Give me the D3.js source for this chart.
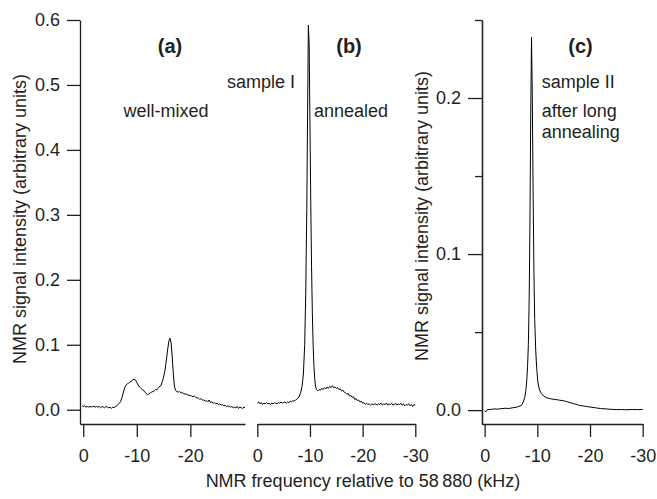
<!DOCTYPE html>
<html><head><meta charset="utf-8">
<script src="https://cdn.jsdelivr.net/npm/d3@7"></script>
<style>
body{margin:0;background:#fff;}
text{font-family:"Liberation Sans",Arial,Helvetica,sans-serif;fill:#231f20;}
</style></head><body>
<svg id="chart" width="657" height="499"></svg>
<script>
// ---- data ----
const specA = [[0.2,0.006],[0,0.005],[-0.25,0.006],[-0.5,0.004],[-0.75,0.005],[-1,0.004],[-1.25,0.005],[-1.5,0.004],[-1.75,0.005],[-2,0.005],[-2.25,0.004],[-2.5,0.005],[-2.75,0.004],[-3,0.005],[-3.25,0.003],[-3.5,0.005],[-3.75,0.004],[-4,0.003],[-4.25,0.005],[-4.5,0.004],[-4.75,0.003],[-5,0.004],[-5.25,0.002],[-5.5,0.004],[-5.75,0.003],[-6,0.005],[-6.25,0.006],[-6.5,0.008],[-6.75,0.010],[-7,0.013],[-7.25,0.019],[-7.5,0.027],[-7.75,0.034],[-8,0.038],[-8.25,0.040],[-8.5,0.041],[-8.75,0.043],[-9,0.044],[-9.25,0.046],[-9.5,0.047],[-9.75,0.046],[-10,0.042],[-10.25,0.038],[-10.5,0.035],[-10.75,0.033],[-11,0.031],[-11.25,0.030],[-11.5,0.027],[-11.75,0.025],[-12,0.023],[-12.25,0.024],[-12.5,0.026],[-12.75,0.027],[-13,0.028],[-13.25,0.029],[-13.5,0.031],[-13.75,0.031],[-14,0.033],[-14.25,0.036],[-14.5,0.037],[-14.75,0.043],[-15,0.050],[-15.25,0.060],[-15.5,0.075],[-15.75,0.092],[-16,0.106],[-16.2,0.110],[-16.4,0.103],[-16.6,0.083],[-16.8,0.058],[-17,0.038],[-17.2,0.030],[-17.5,0.028],[-17.75,0.027],[-18,0.028],[-18.25,0.026],[-18.5,0.026],[-18.75,0.025],[-19,0.024],[-19.25,0.024],[-19.5,0.023],[-19.75,0.022],[-20,0.022],[-20.25,0.021],[-20.5,0.020],[-20.75,0.021],[-21,0.019],[-21.25,0.018],[-21.5,0.018],[-21.75,0.016],[-22,0.017],[-22.25,0.015],[-22.5,0.015],[-22.75,0.013],[-23,0.014],[-23.25,0.012],[-23.5,0.015],[-23.75,0.011],[-24,0.012],[-24.25,0.010],[-24.5,0.011],[-24.75,0.009],[-25,0.010],[-25.25,0.008],[-25.5,0.009],[-25.75,0.007],[-26,0.008],[-26.25,0.006],[-26.5,0.007],[-26.75,0.005],[-27,0.006],[-27.25,0.005],[-27.5,0.004],[-27.75,0.005],[-28,0.003],[-28.25,0.004],[-28.5,0.003],[-28.75,0.005],[-29,0.002],[-29.25,0.004],[-29.5,0.003],[-29.75,0.002],[-30,0.004],[-30.2,0.003]];

const specB = [[0,0.010],[-0.25,0.012],[-0.5,0.009],[-0.75,0.011],[-1,0.008],[-1.25,0.010],[-1.5,0.009],[-1.75,0.011],[-2,0.009],[-2.25,0.010],[-2.5,0.008],[-2.75,0.010],[-3,0.009],[-3.25,0.011],[-3.5,0.010],[-3.75,0.009],[-4,0.011],[-4.25,0.010],[-4.5,0.012],[-4.75,0.010],[-5,0.011],[-5.25,0.012],[-5.5,0.010],[-5.75,0.012],[-6,0.011],[-6.25,0.013],[-6.5,0.012],[-6.75,0.014],[-7,0.013],[-7.25,0.015],[-7.5,0.016],[-7.75,0.018],[-8.0,0.021],[-8.25,0.027],[-8.5,0.036],[-8.75,0.055],[-9.0,0.10],[-9.2,0.18],[-9.4,0.31],[-9.55,0.46],[-9.7,0.592],[-9.85,0.56],[-10.0,0.44],[-10.15,0.32],[-10.3,0.22],[-10.45,0.15],[-10.6,0.10],[-10.75,0.068],[-10.9,0.048],[-11.05,0.036],[-11.25,0.031],[-11.5,0.029],[-11.75,0.031],[-12,0.030],[-12.25,0.033],[-12.5,0.031],[-12.75,0.034],[-13,0.032],[-13.25,0.035],[-13.5,0.033],[-13.75,0.036],[-14,0.034],[-14.25,0.037],[-14.5,0.034],[-14.75,0.035],[-15,0.033],[-15.25,0.034],[-15.5,0.031],[-15.75,0.032],[-16,0.029],[-16.25,0.030],[-16.5,0.027],[-16.75,0.026],[-17,0.024],[-17.25,0.025],[-17.5,0.021],[-17.75,0.022],[-18,0.019],[-18.25,0.020],[-18.5,0.016],[-18.75,0.017],[-19,0.014],[-19.25,0.015],[-19.5,0.012],[-19.75,0.013],[-20,0.010],[-20.25,0.011],[-20.5,0.008],[-20.75,0.010],[-21,0.008],[-21.25,0.009],[-21.5,0.007],[-21.75,0.009],[-22,0.008],[-22.5,0.009],[-22.75,0.007],[-23,0.009],[-23.25,0.008],[-23.5,0.010],[-23.75,0.007],[-24,0.009],[-24.25,0.008],[-24.5,0.010],[-24.75,0.007],[-25,0.009],[-25.25,0.008],[-25.5,0.010],[-25.75,0.007],[-26,0.008],[-26.25,0.010],[-26.5,0.007],[-26.75,0.009],[-27,0.008],[-27.25,0.010],[-27.5,0.007],[-27.75,0.009],[-28,0.006],[-28.25,0.008],[-28.5,0.007],[-28.75,0.009],[-29,0.006],[-29.25,0.008],[-29.5,0.005],[-29.75,0.008],[-30,0.007]];

const specC = [[0,-0.0004],[-0.25,-0.001],[-0.5,0.0002],[-1,0.0004],[-1.5,0.0006],[-2,0.0008],[-2.5,0.0006],[-3,0.0009],[-3.5,0.001],[-4,0.0012],[-4.5,0.001],[-5,0.0013],[-5.5,0.0016],[-6,0.0018],[-6.5,0.0024],[-7,0.003],[-7.3,0.005],[-7.6,0.008],[-7.8,0.012],[-8.0,0.019],[-8.15,0.028],[-8.3,0.042],[-8.45,0.07],[-8.6,0.12],[-8.75,0.19],[-8.9,0.239],[-9.05,0.20],[-9.2,0.14],[-9.35,0.09],[-9.5,0.058],[-9.7,0.038],[-9.9,0.026],[-10.1,0.018],[-10.4,0.013],[-10.8,0.0105],[-11.2,0.009],[-11.6,0.0082],[-12,0.0077],[-12.5,0.0073],[-13,0.007],[-13.5,0.0068],[-14,0.0065],[-14.5,0.0062],[-15,0.006],[-15.5,0.0055],[-16,0.005],[-16.5,0.0045],[-17,0.004],[-17.5,0.0036],[-18,0.003],[-18.5,0.0028],[-19,0.0025],[-19.5,0.0022],[-20,0.002],[-21,0.0015],[-22,0.001],[-23,0.0008],[-24,0.0005],[-25,0.0003],[-26,0.0004],[-27,0.0002],[-28,0.0004],[-29,0.0003],[-30,0.0004]];

const ticksLeftY = [0, 0.1, 0.2, 0.3, 0.4, 0.5, 0.6];
const ticksRightY = [0, 0.1, 0.2];
const minorRightY = [0.05, 0.15, 0.25];
const ticksXa = [0, -10, -20];
const ticksXbc = [0, -10, -20, -30];

const yTitle = "NMR signal intensity (arbitrary units)";
const xTitle = "NMR frequency relative to 58\u2009880 (kHz)";

// ---- drawing ----
const svg = d3.select("#chart");
const ink = "#231f20";
const FS = 18;

const yL = d3.scaleLinear().domain([-0.022, 0.6]).range([424, 20]);
const yR = d3.scaleLinear().domain([-0.0089, 0.25]).range([424, 20]);
const xA = d3.scaleLinear().domain([0.6, -30.2]).range([80, 245]);
const xB = d3.scaleLinear().domain([0, -30]).range([257.3, 415.3]);
const xC = d3.scaleLinear().domain([0.5, -30]).range([482, 642.7]);

function styleAxis(g){
  g.selectAll("path.domain").attr("stroke", ink).attr("stroke-width", 1.3);
  g.selectAll(".tick line").attr("stroke", ink).attr("stroke-width", 1.3);
  g.selectAll(".tick text").attr("font-size", FS).attr("fill", ink)
    .attr("font-family", '"Liberation Sans",Arial,Helvetica,sans-serif');
}

// left y axis
svg.append("g").attr("transform","translate(80,0)")
  .call(d3.axisLeft(yL).tickValues(ticksLeftY).tickFormat(d3.format(".1f")).tickSize(13).tickSizeOuter(0).tickPadding(7))
  .call(styleAxis);

// right y axis (panel c)
svg.append("g").attr("transform","translate(482,0)")
  .call(d3.axisLeft(yR).tickValues(ticksRightY).tickFormat(d3.format(".1f")).tickSize(14).tickSizeOuter(0).tickPadding(7))
  .call(styleAxis);
svg.append("g").attr("transform","translate(482,0)")
  .call(d3.axisLeft(yR).tickValues(minorRightY).tickFormat("").tickSize(7).tickSizeOuter(0))
  .call(styleAxis);

// x axes
[[xA, ticksXa],[xB, ticksXbc],[xC, ticksXbc]].forEach(([sc, tv]) => {
  const g = svg.append("g").attr("transform","translate(0,424)")
    .call(d3.axisBottom(sc).tickValues(tv).tickFormat(d3.format("d")).tickSize(13).tickSizeOuter(0).tickPadding(12))
    .call(styleAxis);
  g.selectAll(".tick text").text(d => d === 0 ? "0" : "-" + Math.abs(d));
});

// curves
const lineFn = (xs, ys) => d3.line().x(d => xs(d[0])).y(d => ys(d[1]));
[[specA, xA, yL],[specB, xB, yL],[specC, xC, yR]].forEach(([data, xs, ys]) => {
  svg.append("path").datum(data).attr("d", lineFn(xs, ys))
    .attr("fill","none").attr("stroke","#000").attr("stroke-width",1).attr("stroke-linejoin","round");
});

// annotations
const ann = [
  {t:"(a)", x:170, y:53, a:"middle", b:true},
  {t:"well-mixed", x:123.5, y:117, a:"start"},
  {t:"sample I", x:227, y:87.5, a:"start"},
  {t:"(b)", x:349, y:53, a:"middle", b:true},
  {t:"annealed", x:314, y:117, a:"start"},
  {t:"(c)", x:580.5, y:53, a:"middle", b:true},
  {t:"sample II", x:541.7, y:87.5, a:"start"},
  {t:"after long", x:541.7, y:117, a:"start"},
  {t:"annealing", x:541.7, y:137.5, a:"start"}
];
svg.selectAll("text.ann").data(ann).enter().append("text").attr("class","ann")
  .attr("x", d=>d.x).attr("y", d=>d.y).attr("text-anchor", d=>d.a)
  .attr("font-size", d=> d.b ? 20 : FS).attr("font-weight", d=> d.b ? "bold" : "normal")
  .text(d=>d.t);

// axis titles
svg.append("text").attr("transform","translate(20,219) rotate(-90)").attr("dy","0.35em")
  .attr("text-anchor","middle").attr("font-size",FS).text(yTitle);
svg.append("text").attr("transform","translate(422,216) rotate(-90)").attr("dy","0.35em")
  .attr("text-anchor","middle").attr("font-size",FS).text(yTitle);
svg.append("text").attr("x",363).attr("y",487).attr("text-anchor","middle")
  .attr("font-size",FS).text(xTitle);
</script>
</body></html>
